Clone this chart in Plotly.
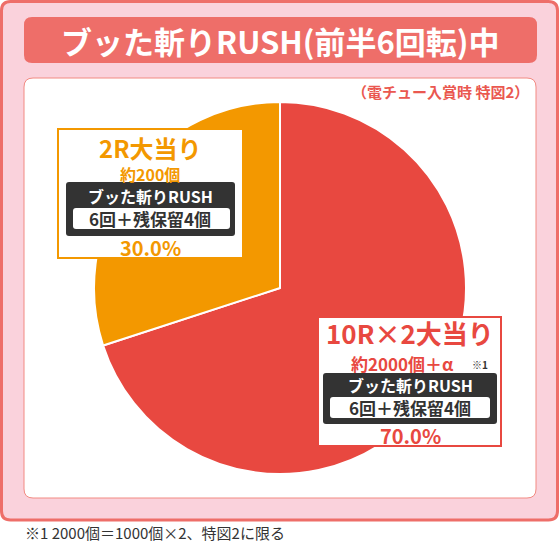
import plotly.graph_objects as go

W, H = 560, 543

# data
labels = ["10R×2大当り", "2R大当り"]
values = [70.0, 30.0]
colors = ["#e84840", "#f39800"]
payouts = ["約2000個＋α", "約200個"]
rush_name = "ブッた斬りRUSH"
rush_detail = "6回＋残保留4個"

title_text = "ブッた斬りRUSH(前半6回転)中"
note_text = "（電チュー入賞時 特図2）"
foot_text = "※1 2000個＝1000個×2、特図2に限る"

FONT = "Noto Sans CJK JP"


def fx(x):
    return x / W


def fy(y):
    return 1 - y / H


def rrect(x0, y0, x1, y1, r):
    # rounded rectangle path in paper coords, from pixel box
    p = [
        f"M{fx(x0 + r)},{fy(y0)}",
        f"L{fx(x1 - r)},{fy(y0)}",
        f"Q{fx(x1)},{fy(y0)} {fx(x1)},{fy(y0 + r)}",
        f"L{fx(x1)},{fy(y1 - r)}",
        f"Q{fx(x1)},{fy(y1)} {fx(x1 - r)},{fy(y1)}",
        f"L{fx(x0 + r)},{fy(y1)}",
        f"Q{fx(x0)},{fy(y1)} {fx(x0)},{fy(y1 - r)}",
        f"L{fx(x0)},{fy(y0 + r)}",
        f"Q{fx(x0)},{fy(y0)} {fx(x0 + r)},{fy(y0)}",
        "Z",
    ]
    return " ".join(p)


def box(x0, y0, x1, y1, r, fill, line=None, lw=0, layer="above"):
    return dict(type="path", xref="paper", yref="paper", layer=layer,
                path=rrect(x0, y0, x1, y1, r), fillcolor=fill,
                line=dict(color=line or fill, width=lw))


def txt(x, y, s, size, color, bold=True, xanchor="center"):
    if bold:
        s = "<b>" + s + "</b>"
    return dict(x=fx(x), y=fy(y), xref="paper", yref="paper", text=s,
                showarrow=False, xanchor=xanchor, yanchor="middle",
                borderpad=0,
                font=dict(family=FONT, size=size, color=color))


# pie centre (280, 288), radius 186
cx, cy, rad = 280, 288, 186

fig = go.Figure(go.Pie(
    labels=labels,
    values=values,
    sort=False,
    direction="clockwise",
    rotation=0,
    textinfo="none",
    hoverinfo="skip",
    marker=dict(colors=colors, line=dict(color="white", width=2)),
    domain=dict(x=[fx(cx - rad), fx(cx + rad)], y=[fy(cy + rad), fy(cy - rad)]),
))

shapes = [
    box(1.5, 1.5, 557.5, 520, 9, "#fad2dc", "#ee6e69", 3, layer="below"),
    box(24, 17, 537, 63, 8, "#ee6e69", layer="below"),
    box(24, 78, 536, 498, 9, "white", "#f28a82", 1, layer="below"),
]

annotations = [
    txt(280, 40, title_text, 31, "white"),
    txt(530, 91, note_text, 15, "#ea5850", xanchor="right"),
    txt(24, 532, foot_text, 15, "#333333", bold=False, xanchor="left"),
]

# label boxes: red (index 0) lower right, orange (index 1) upper left
boxes = {
    1: dict(x0=58, y0=129, x1=243, y1=258, cx=150),
    0: dict(x0=318, y0=317, x1=501, y1=446, cx=410),
}
offsets = {
    1: dict(big=148, pay=174, dark=(182, 236), rush=196, inner=(208, 229), det=219, pct=247, w=(66, 235), iw=(73, 230)),
    0: dict(big=332, pay=363, dark=(373, 424), rush=385, inner=(397, 418), det=407, pct=435, w=(323, 497), iw=(330, 490)),
}

for i in range(len(labels)):
    b = boxes[i]
    o = offsets[i]
    c = colors[i]
    shapes.append(box(b["x0"], b["y0"], b["x1"], b["y1"], 0, "white", c, 2))
    shapes.append(box(o["w"][0], o["dark"][0], o["w"][1], o["dark"][1], 3, "#333333"))
    shapes.append(box(o["iw"][0], o["inner"][0], o["iw"][1], o["inner"][1], 3, "white"))
    big = 26 if i == 0 else 24
    annotations.append(txt(b["cx"], o["big"], labels[i], big, c))
    annotations.append(txt(b["cx"] - (8 if i == 0 else 0), o["pay"], payouts[i], 17 if i == 0 else 16, c))
    annotations.append(txt(b["cx"], o["rush"], rush_name, 16, "white"))
    annotations.append(txt(b["cx"], o["det"], rush_detail, 17, "#333333"))
    annotations.append(txt(b["cx"], o["pct"], f"{values[i]:.1f}%", 20, c))

# footnote mark after the red payout line
annotations.append(txt(471, 364, "※1", 10, "#333333", xanchor="left"))

fig.update_layout(
    width=W,
    height=H,
    margin=dict(l=0, r=0, t=0, b=0),
    paper_bgcolor="white",
    plot_bgcolor="white",
    showlegend=False,
    shapes=shapes,
    annotations=annotations,
)

# page body has a default 8px margin; drop it so the figure fills the window
fig.write_html("out.html", config={"displayModeBar": False},
               post_script="document.body.style.margin='0';")
